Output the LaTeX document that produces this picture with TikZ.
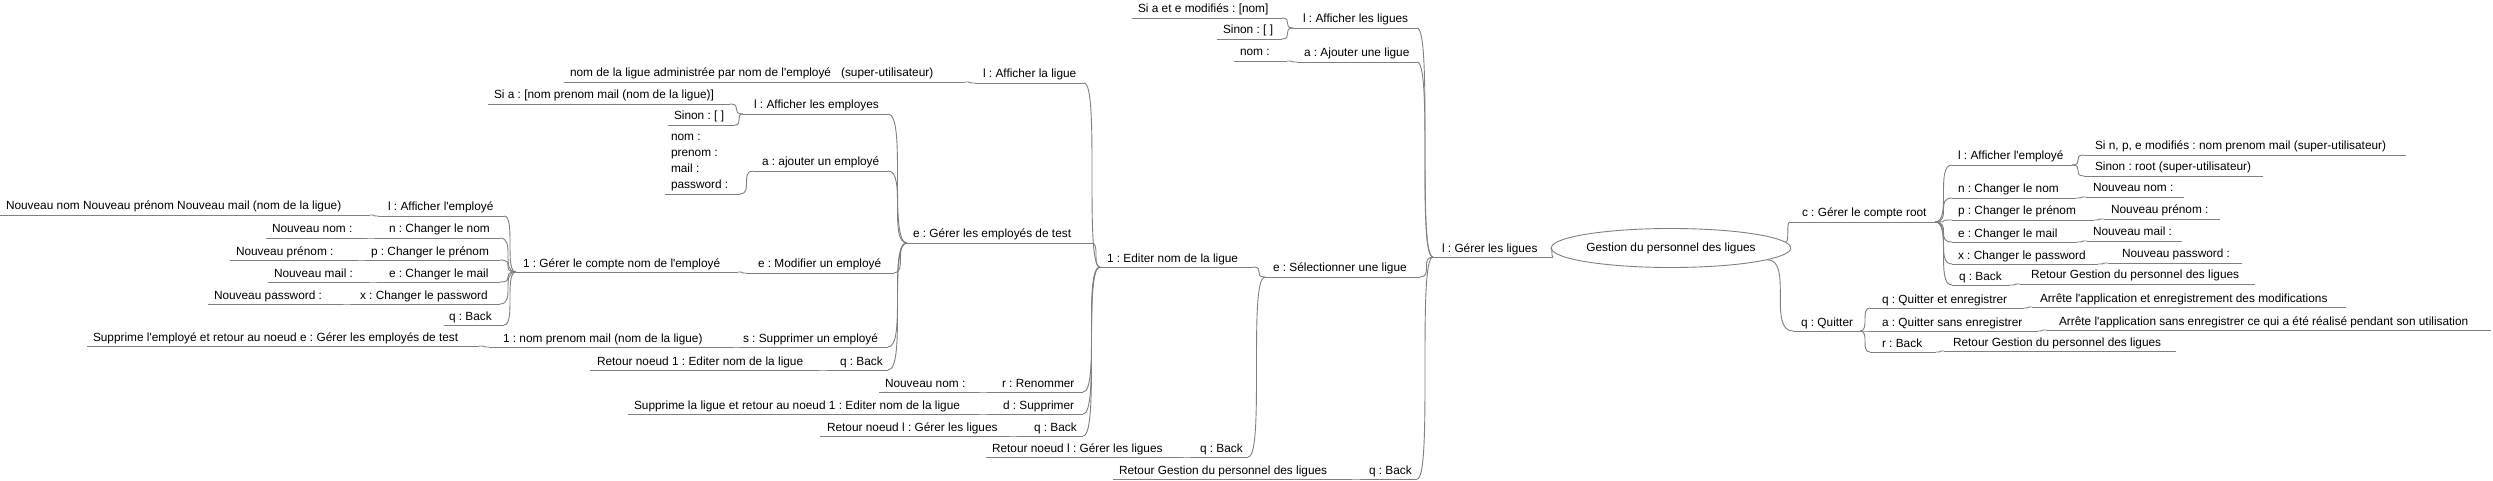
\documentclass[tikz,border=0pt]{standalone}
\usepackage{fontspec}
\setmainfont{Liberation Sans}[Ligatures=TeXOff]
\usetikzlibrary{shapes.geometric}
\definecolor{lgray}{RGB}{128,128,128}
\newcommand\mmfont{\fontsize{11.85}{16}\selectfont\frenchspacing}
\tikzset{
 uline/.style={draw=lgray, line width=0.9pt},
 edge/.style={draw=lgray, line width=0.9pt},
 lbl/.style={inner sep=0pt, outer sep=0pt, font=\mmfont, text=black, anchor=base west},
 rootnode/.style={draw=lgray, line width=0.9pt, ellipse, minimum width=210pt, minimum height=39pt, inner sep=0pt, font=\mmfont},
}
\newcommand\mmn[6]{%
 \coordinate (#1L) at (#2,#4);
 \coordinate (#1R) at (#3,#4);
 \draw[uline] (#1L) -- (#1R);
 \node[lbl] (#1) at (#5,#4-5) {#6};
}
\newcommand\mme[2]{\draw[edge] (#1) .. controls (#1 -| #2) and (#2 -| #1) .. (#2);}
\begin{document}
\begin{tikzpicture}[x=1pt,y=-1pt]
\fill[white] (0,0) rectangle (2493,481);
\useasboundingbox (0,0) rectangle (2493,481);
% root
\node[rootnode] (root) at (1671,248) {Gestion du personnel des ligues};
% ---------- left side ----------
\mmn{lGer}{1433}{1553}{257}{1442}{l : Gérer les ligues}
\mmn{lAffL}{1293}{1417}{28}{1303}{l : Afficher les ligues}
\mmn{lAffLA}{1132}{1282}{18}{1138}{Si a et e modifiés : [nom]}
\mmn{lAffLB}{1217}{1282}{39}{1223}{Sinon : [ ]}
\mmn{lAdd}{1297}{1417}{62}{1304}{a : Ajouter une ligue}
\mmn{lAddA}{1234}{1287}{61}{1240}{nom :}
\mmn{lSel}{1265}{1420}{277}{1273}{e : Sélectionner une ligue}
\mmn{eEd}{1100}{1253}{267}{1107}{1 : Editer nom de la ligue}
\mmn{eAff}{975}{1084}{83}{983}{l : Afficher la ligue}
\mmn{eAffA}{564}{965}{82}{570}{nom de la ligue administrée par nom de l'employé\hspace{10pt}(super-utilisateur)}
\mmn{eEmp}{907}{1092}{243}{913}{e : Gérer les employés de test}
\mmn{mAff}{743}{888}{114}{754}{l : Afficher les employes}
\mmn{mAffA}{488}{730}{104}{494}{Si a : [nom prenom mail (nom de la ligue)]}
\mmn{mAffB}{668}{735}{125}{674}{Sinon : [ ]}
\mmn{mAdd}{753}{888}{171}{762}{a : ajouter un employé}
\mmn{mAddA}{665}{740}{194}{671}{\begin{tabular}[b]{@{}l@{}}nom :\\prenom :\\mail :\\password :\end{tabular}}
\mmn{mMod}{746}{894}{273}{758}{e : Modifier un employé}
\mmn{mModA}{516}{738}{272}{523}{1 : Gérer le compte nom de l'employé}
\mmn{kAff}{378}{504}{216}{388}{l : Afficher l'employé}
\mmn{kAffA}{0}{370}{215}{6}{Nouveau nom Nouveau prénom Nouveau mail (nom de la ligue)}
\mmn{kNom}{376}{500}{238}{389}{n : Changer le nom}
\mmn{kNomA}{266}{366}{238}{272}{Nouveau nom :}
\mmn{kPre}{366}{500}{260}{371}{p : Changer le prénom}
\mmn{kPreA}{230}{357}{260}{236}{Nouveau prénom :}
\mmn{kMail}{378}{500}{282}{389}{e : Changer le mail}
\mmn{kMailA}{268}{368}{282}{274}{Nouveau mail :}
\mmn{kPwd}{352}{500}{304}{360}{x : Changer le password}
\mmn{kPwdA}{208}{342}{304}{214}{Nouveau password :}
\mmn{kBk}{444}{504}{325}{449}{q : Back}
\mmn{mDel}{740}{888}{347}{743}{s : Supprimer un employé}
\mmn{mDelA}{489}{733}{347}{503}{1 : nom prenom mail (nom de la ligue)}
\mmn{mDelAA}{87}{479}{346}{93}{Supprime l'employé et retour au noeud e : Gérer les employés de test}
\mmn{mBk}{828}{888}{370}{840}{q : Back}
\mmn{mBkA}{590}{818}{370}{597}{Retour noeud 1 : Editer nom de la ligue}
\mmn{eRen}{988}{1083}{392}{1002}{r : Renommer}
\mmn{eRenA}{879}{978}{392}{885}{Nouveau nom :}
\mmn{eDel}{988}{1083}{414}{1003}{d : Supprimer}
\mmn{eDelA}{628}{978}{414}{634}{Supprime la ligue et retour au noeud 1 : Editer nom de la ligue}
\mmn{eBk}{1018}{1083}{436}{1034}{q : Back}
\mmn{eBkA}{820}{1008}{436}{827}{Retour noeud l : Gérer les ligues}
\mmn{sBk}{1192}{1248}{457}{1200}{q : Back}
\mmn{sBkA}{986}{1182}{457}{992}{Retour noeud l : Gérer les ligues}
\mmn{lBk}{1362}{1417}{479}{1369}{q : Back}
\mmn{lBkA}{1113}{1350}{479}{1119}{Retour Gestion du personnel des ligues}
% ---------- right side ----------
\mmn{cRoot}{1790}{1935}{222}{1802}{c : Gérer le compte root}
\mmn{cAff}{1952}{2072}{165}{1958}{l : Afficher l'employé}
\mmn{cAffA}{2084}{2406}{155}{2095}{Si n, p, e modifiés : nom prenom mail (super-utilisateur)}
\mmn{cAffB}{2084}{2263}{176}{2095}{Sinon : root (super-utilisateur)}
\mmn{cNom}{1952}{2076}{198}{1958}{n : Changer le nom}
\mmn{cNomA}{2086}{2184}{197}{2093}{Nouveau nom :}
\mmn{cPre}{1952}{2094}{220}{1958}{p : Changer le prénom}
\mmn{cPreA}{2104}{2220}{219}{2111}{Nouveau prénom :}
\mmn{cMail}{1952}{2077}{242}{1958}{e : Changer le mail}
\mmn{cMailA}{2087}{2182}{241}{2093}{Nouveau mail :}
\mmn{cPwd}{1952}{2098}{264}{1958}{x : Changer le password}
\mmn{cPwdA}{2108}{2242}{263}{2122}{Nouveau password :}
\mmn{cBk}{1952}{2010}{285}{1959}{q : Back}
\mmn{cBkA}{2020}{2255}{284}{2031}{Retour Gestion du personnel des ligues}
\mmn{qRoot}{1793}{1860}{331}{1801}{q : Quitter}
\mmn{qQe}{1870}{2024}{308}{1882}{q : Quitter et enregistrer}
\mmn{qQeA}{2032}{2346}{307}{2040}{Arrête l'application et enregistrement des modifications}
\mmn{qQs}{1870}{2038}{331}{1882}{a : Quitter sans enregistrer}
\mmn{qQsA}{2046}{2491}{330}{2059}{Arrête l'application sans enregistrer ce qui a été réalisé pendant son utilisation}
\mmn{qBk}{1870}{1936}{352}{1882}{r : Back}
\mmn{qBkA}{1944}{2176}{351}{1953}{Retour Gestion du personnel des ligues}
% ---------- edges ----------
\mme{root.west}{lGerR}
\mme{root.3}{cRootL}
\mme{root.353}{qRootL}
\mme{lGerL}{lAffLR}
\mme{lGerL}{lAddR}
\mme{lGerL}{lSelR}
\mme{lGerL}{lBkR}
\mme{lAffLL}{lAffLAR}
\mme{lAffLL}{lAffLBR}
\mme{lAddL}{lAddAR}
\mme{lSelL}{eEdR}
\mme{lSelL}{sBkR}
\mme{eEdL}{eAffR}
\mme{eEdL}{eEmpR}
\mme{eEdL}{eRenR}
\mme{eEdL}{eDelR}
\mme{eEdL}{eBkR}
\mme{eAffL}{eAffAR}
\mme{eEmpL}{mAffR}
\mme{eEmpL}{mAddR}
\mme{eEmpL}{mModR}
\mme{eEmpL}{mDelR}
\mme{eEmpL}{mBkR}
\mme{mAffL}{mAffAR}
\mme{mAffL}{mAffBR}
\mme{mAddL}{mAddAR}
\mme{mModL}{mModAR}
\mme{mModAL}{kAffR}
\mme{mModAL}{kNomR}
\mme{mModAL}{kPreR}
\mme{mModAL}{kMailR}
\mme{mModAL}{kPwdR}
\mme{mModAL}{kBkR}
\mme{kAffL}{kAffAR}
\mme{kNomL}{kNomAR}
\mme{kPreL}{kPreAR}
\mme{kMailL}{kMailAR}
\mme{kPwdL}{kPwdAR}
\mme{mDelL}{mDelAR}
\mme{mDelAL}{mDelAAR}
\mme{mBkL}{mBkAR}
\mme{eRenL}{eRenAR}
\mme{eDelL}{eDelAR}
\mme{eBkL}{eBkAR}
\mme{sBkL}{sBkAR}
\mme{lBkL}{lBkAR}
\mme{cRootR}{cAffL}
\mme{cRootR}{cNomL}
\mme{cRootR}{cPreL}
\mme{cRootR}{cMailL}
\mme{cRootR}{cPwdL}
\mme{cRootR}{cBkL}
\mme{cAffR}{cAffAL}
\mme{cAffR}{cAffBL}
\mme{cNomR}{cNomAL}
\mme{cPreR}{cPreAL}
\mme{cMailR}{cMailAL}
\mme{cPwdR}{cPwdAL}
\mme{cBkR}{cBkAL}
\mme{qRootR}{qQeL}
\mme{qRootR}{qQsL}
\mme{qRootR}{qBkL}
\mme{qQeR}{qQeAL}
\mme{qQsR}{qQsAL}
\mme{qBkR}{qBkAL}
\end{tikzpicture}
\end{document}
